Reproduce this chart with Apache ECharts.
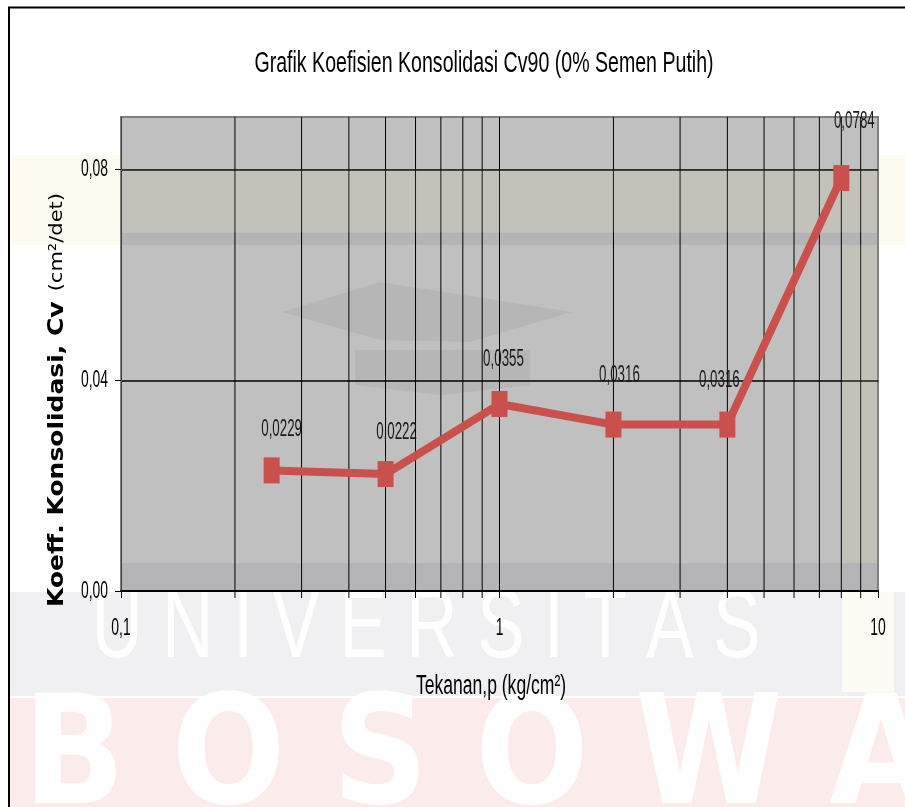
<!DOCTYPE html>
<html>
<head>
<meta charset="utf-8">
<script src="https://cdn.jsdelivr.net/npm/echarts@6/dist/echarts.min.js"></script>
<style>
  html, body { margin: 0; padding: 0; background: #ffffff; }
  #chart { width: 905px; height: 807px; }
</style>
</head>
<body>
<div id="chart"></div>
<script>
// Tekanan (kg/cm²) and Cv90 (cm²/det) for 0% semen putih
const pressure = [0.25, 0.5, 1, 2, 4, 8];
const cv = [0.0229, 0.0222, 0.0355, 0.0316, 0.0316, 0.0784];

// axis tick values
const xTicks = [0.1, 1, 10];
const yTicks = [0, 0.04, 0.08];
// log-axis minor gridline positions
const minorGrid = [0.2, 0.3, 0.4, 0.5, 0.6, 0.7, 0.8, 0.9, 2, 3, 4, 5, 6, 7, 8, 9];

const xMin = 0.1, xMax = 10;
const yMin = 0, yMax = 0.09, yStep = 0.04;

// placement of each value label relative to its marker (px)
const labelNudge = [[10, -41], [11, -41], [4, -44], [6, -49], [-8, -44], [13, -56]];

// condensed lettering: Liberation Sans squeezed horizontally
const FONT = '"Liberation Sans", Arial, sans-serif';
const SQUEEZE = 0.58;

const comma = v => String(v).replace('.', ',');

function squeezedText(x, y, text, size, align, scale) {
  return {
    type: 'text', x: x, y: y, scaleX: scale,
    style: {
      text: text, font: size + 'px ' + FONT, fill: '#000',
      align: align, verticalAlign: 'middle', textAlign: align, textVerticalAlign: 'middle'
    }
  };
}

const chart = echarts.init(document.getElementById('chart'), null, { renderer: 'canvas' });

const option = {
  backgroundColor: '#ffffff',
  animation: false,
  grid: {
    left: 121, right: 27, top: 117, bottom: 216,
    show: true, backgroundColor: '#c0c0c0', borderColor: '#808080', borderWidth: 2
  },
  xAxis: {
    type: 'log', logBase: 10, min: xMin, max: xMax,
    axisLine: { lineStyle: { color: '#000', width: 2 } },
    axisTick: { show: true, length: 7, lineStyle: { color: '#000' } },
    axisLabel: { show: false },
    splitLine: { show: true, lineStyle: { color: ['#404040', '#000', '#808080'], width: 1 } }
  },
  yAxis: {
    type: 'value', min: yMin, max: yMax, interval: yStep,
    axisLine: { show: true, lineStyle: { color: '#404040', width: 1 } },
    axisTick: { show: true, length: 6, customValues: yTicks, lineStyle: { color: '#000' } },
    axisLabel: { show: false },
    splitLine: { show: true, lineStyle: { color: ['#000', '#000', '#000', '#808080'], width: 1.5 } }
  },
  graphic: [
    // page frame
    { type: 'polyline', z: 200, shape: { points: [[9, 807], [9, 7.5], [905, 7.5]] }, style: { stroke: '#000', lineWidth: 2, fill: null } },
    // title
    {
      type: 'text', z: 50, x: 484, y: 64, scaleX: 0.675,
      style: {
        text: 'Grafik Koefisien Konsolidasi Cv90 (0% Semen Putih)', font: '29px ' + FONT, fill: '#000',
        align: 'center', verticalAlign: 'middle', textAlign: 'center', textVerticalAlign: 'middle'
      }
    },
    // x-axis title
    {
      type: 'text', z: 50, x: 491, y: 687, scaleX: 0.65,
      style: {
        text: 'Tekanan,p (kg/cm²)', font: '27px ' + FONT, fill: '#000',
        align: 'center', verticalAlign: 'middle', textAlign: 'center', textVerticalAlign: 'middle'
      }
    },
    // y-axis title
    {
      type: 'text', z: 50, x: 57, y: 400, rotation: Math.PI / 2, scaleY: 0.88,
      style: {
        text: '{b|Koeff. Konsolidasi, Cv}   {n|(cm²/det)}',
        align: 'center', verticalAlign: 'middle', textAlign: 'center', textVerticalAlign: 'middle',
        rich: {
          b: { fontFamily: 'DejaVu Sans', fontWeight: 'bold', fontSize: 25, fill: '#000', color: '#000' },
          n: { fontFamily: 'DejaVu Sans', fontSize: 21, fill: '#000', color: '#000' }
        }
      }
    },
    // watermark bands behind the chart
    { type: 'rect', z: -100, shape: { x: 10, y: 155, width: 895, height: 90 }, style: { fill: '#fdfaf0' } },
    { type: 'rect', z: -100, shape: { x: 10, y: 592, width: 895, height: 104 }, style: { fill: '#f0f0f2' } },
    { type: 'rect', z: -99, shape: { x: 842, y: 592, width: 52, height: 100 }, style: { fill: '#fdfcf4' } },
    { type: 'rect', z: -100, shape: { x: 10, y: 698, width: 895, height: 109 }, style: { fill: '#fcebeb' } },
    {
      type: 'text', z: -90, x: 426, y: 630, scaleX: 0.73,
      style: {
        text: 'U N I V E R S I T A S', font: '97px ' + FONT, fill: '#ffffff',
        align: 'center', verticalAlign: 'middle', textAlign: 'center', textVerticalAlign: 'middle'
      }
    },
    {
      type: 'text', z: -90, x: 478, y: 764, scaleX: 0.88,
      style: {
        text: 'B O S O W A', font: 'bold 152px "DejaVu Sans", sans-serif', fill: '#ffffff',
        align: 'center', verticalAlign: 'middle', textAlign: 'center', textVerticalAlign: 'middle'
      }
    },
    // faint watermark tint over the plot area
    { type: 'rect', z: 3, silent: true, shape: { x: 122, y: 170, width: 755, height: 62 }, style: { fill: 'rgba(215,205,150,0.12)' } },
    { type: 'rect', z: 3, silent: true, shape: { x: 122, y: 233, width: 755, height: 12 }, style: { fill: 'rgba(0,0,30,0.06)' } },
    { type: 'rect', z: 3, silent: true, shape: { x: 122, y: 563, width: 755, height: 27 }, style: { fill: 'rgba(0,0,30,0.06)' } },
    { type: 'rect', z: 3, silent: true, shape: { x: 842, y: 245, width: 35, height: 318 }, style: { fill: 'rgba(215,205,150,0.15)' } },
    { type: 'polygon', z: 3, silent: true, shape: { points: [[282, 312], [380, 282], [572, 312], [470, 342], [380, 340]] }, style: { fill: 'rgba(0,0,20,0.05)' } },
    { type: 'polygon', z: 3, silent: true, shape: { points: [[355, 350], [530, 350], [530, 385], [440, 395], [355, 385]] }, style: { fill: 'rgba(0,0,20,0.05)' } }
  ],
  series: [
    {
      // minor gridlines of the log axis, with their ticks below the axis
      type: 'custom', silent: true, clip: false, z: 1,
      data: minorGrid.map(v => [v, yMin]),
      renderItem: (params, api) => {
        const x = api.value(0);
        const top = api.coord([x, yMax]);
        const bot = api.coord([x, yMin]);
        return {
          type: 'line',
          shape: { x1: top[0], y1: top[1], x2: bot[0], y2: bot[1] + 7 },
          style: { stroke: '#000', lineWidth: 1 }
        };
      }
    },
    {
      // x tick labels
      type: 'custom', silent: true, clip: false, z: 20,
      data: xTicks.map(v => [v, yMin]),
      renderItem: (params, api) => {
        const p = api.coord([api.value(0), yMin]);
        return squeezedText(p[0], p[1] + 37, comma(api.value(0)), 24, 'center', SQUEEZE);
      }
    },
    {
      // y tick labels
      type: 'custom', silent: true, clip: false, z: 20,
      data: yTicks.map(v => [xMin, v]),
      renderItem: (params, api) => {
        const v = api.value(1);
        const p = api.coord([xMin, v]);
        return squeezedText(p[0] - 13, p[1], v.toFixed(2).replace('.', ','), 24, 'right', SQUEEZE);
      }
    },
    {
      type: 'line', z: 5,
      data: pressure.map((p, i) => [p, cv[i]]),
      lineStyle: { color: '#c9504c', width: 8 },
      itemStyle: { color: '#c9504c' },
      symbol: 'rect',
      symbolSize: [16, 26],
      label: { show: false }
    },
    {
      // value labels above the markers
      type: 'custom', silent: true, clip: false, z: 20,
      data: pressure.map((p, i) => [p, cv[i], i]),
      renderItem: (params, api) => {
        const i = api.value(2);
        const p = api.coord([api.value(0), api.value(1)]);
        const n = labelNudge[i];
        const el = squeezedText(p[0] + n[0], p[1] + n[1], comma(api.value(1)), 23, 'center', SQUEEZE);
        el.style.fill = '#1a1a1a';
        return el;
      }
    }
  ]
};

chart.setOption(option);
</script>
</body>
</html>
